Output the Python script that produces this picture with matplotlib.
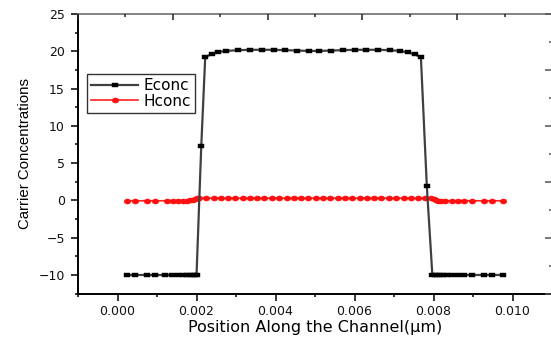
import numpy as np
import matplotlib
matplotlib.use("Agg")
import matplotlib.pyplot as plt
from matplotlib.ticker import MultipleLocator, NullFormatter
from matplotlib.path import Path
from matplotlib.transforms import Affine2D

# electron concentration (black squares)
e_pos = [0.00024, 0.00045, 0.00074, 0.00095, 0.00121, 0.00138, 0.00152, 0.00165,
         0.00175, 0.00183, 0.00190, 0.00196, 0.00200, 0.00212, 0.00222, 0.00240,
         0.00255, 0.00275, 0.00305, 0.00335, 0.00365, 0.00395, 0.00425, 0.00455,
         0.00485, 0.00510, 0.00540, 0.00570, 0.00600, 0.00630, 0.00660, 0.00690,
         0.00715, 0.00735, 0.00752, 0.00768, 0.00783, 0.00797, 0.00803, 0.00810,
         0.00817, 0.00825, 0.00835, 0.00847, 0.00862, 0.00876, 0.00897, 0.00927,
         0.00948, 0.00977]
e_conc = [-10, -10, -10, -10, -10, -10, -10, -10,
          -10, -10, -10, -10, -10, 7.3, 19.2, 19.7,
          19.9, 20.05, 20.15, 20.2, 20.2, 20.2, 20.15, 20.1,
          20.05, 20.05, 20.1, 20.15, 20.2, 20.2, 20.2, 20.15,
          20.05, 19.85, 19.6, 19.2, 1.9, -10, -10, -10,
          -10, -10, -10, -10, -10, -10, -10, -10,
          -10, -10]

# hole concentration (red circles)
h_pos = [0.00024, 0.00045, 0.00074, 0.00095, 0.00124, 0.00141, 0.00153, 0.00166,
         0.00175, 0.00183, 0.00190, 0.00195, 0.00200, 0.00206, 0.00224, 0.00243,
         0.00261, 0.00280, 0.00298, 0.00317, 0.00335, 0.00354, 0.00372, 0.00391,
         0.00409, 0.00428, 0.00446, 0.00465, 0.00483, 0.00502, 0.00520, 0.00539,
         0.00557, 0.00576, 0.00594, 0.00613, 0.00631, 0.00650, 0.00668, 0.00687,
         0.00705, 0.00724, 0.00742, 0.00761, 0.00779, 0.00793, 0.00800, 0.00806,
         0.00812, 0.00820, 0.00830, 0.00847, 0.00862, 0.00876, 0.00897, 0.00927,
         0.00948, 0.00977]
h_conc = [-0.05, -0.05, -0.05, -0.05, -0.05, -0.05, -0.05, -0.03,
          -0.02, 0.0, 0.05, 0.2, 0.35, 0.3, 0.3, 0.3,
          0.3, 0.3, 0.3, 0.3, 0.3, 0.3, 0.3, 0.3,
          0.3, 0.3, 0.3, 0.3, 0.3, 0.3, 0.3, 0.3,
          0.3, 0.3, 0.3, 0.3, 0.3, 0.3, 0.3, 0.3,
          0.3, 0.3, 0.3, 0.3, 0.3, 0.35, 0.15, 0.05,
          -0.02, -0.05, -0.05, -0.05, -0.05, -0.05, -0.05, -0.05,
          -0.05, -0.05]

plt.rcParams['font.family'] = ['DejaVu Sans']

# the original picture is stretched sideways, so the markers are too
sq_marker = Path([(-1.5, -1), (1.5, -1), (1.5, 1), (-1.5, 1), (-1.5, -1)],
                 [Path.MOVETO, Path.LINETO, Path.LINETO, Path.LINETO, Path.CLOSEPOLY])
oval_marker = Path.unit_circle().transformed(Affine2D().scale(1.3, 1.0))

fig = plt.figure(figsize=(5.51, 3.42), dpi=100)
ax = fig.add_axes([0.1416, 0.1415, 0.8603, 0.8175])

ax.plot(e_pos, e_conc, color='#404040', lw=1.6, marker=sq_marker, ms=4.6,
        mfc='black', mec='black', mew=0.3, label='Econc', zorder=3)
ax.plot(h_pos, h_conc, color='#ff2020', lw=1.2, marker=oval_marker, ms=4.8,
        mfc='#ff1010', mec='#ff1010', mew=0.3, label='Hconc', zorder=2)

ax.set_xlim(-0.001, 0.011)
ax.set_ylim(-12.5, 25)
ax.xaxis.set_major_locator(MultipleLocator(0.002))
ax.xaxis.set_minor_locator(MultipleLocator(0.001))
ax.yaxis.set_major_locator(MultipleLocator(5))
ax.yaxis.set_minor_locator(MultipleLocator(2.5))
ax.xaxis.set_major_formatter(plt.FuncFormatter(lambda v, p: f"{v:.3f}"))
ax.yaxis.set_major_formatter(plt.FuncFormatter(
    lambda v, p: f"{v:.0f}".replace('-', '\u2212')))

ax.tick_params(which='both', direction='out', top=False, right=False,
               labelsize=9, labelcolor='#111111', width=1.1)
ax.tick_params(which='major', length=5)
ax.tick_params(which='minor', length=2.3)
ax.tick_params(axis='x', pad=3.5)
ax.tick_params(axis='y', pad=4.5)

for s in ['left', 'bottom']:
    ax.spines[s].set_linewidth(1.4)
    ax.spines[s].set_color('black')
ax.spines['top'].set_color('#7a7a7a')
ax.spines['top'].set_linewidth(1.3)
ax.spines['right'].set_visible(False)

# mirrored top/right ticks with their own spacing
axt = ax.twiny()
axt.set_xlim(0, 5)
axt.xaxis.set_major_locator(MultipleLocator(1))
axt.xaxis.set_minor_locator(MultipleLocator(0.5))
axt.xaxis.set_major_formatter(NullFormatter())
axt.tick_params(which='both', direction='in', top=True, labeltop=False,
                width=1.1, color='#222222')
axt.tick_params(which='major', length=4)
axt.tick_params(which='minor', length=2)
axr = ax.twinx()
axr.set_ylim(0, 5)
axr.yaxis.set_major_locator(MultipleLocator(1))
axr.yaxis.set_minor_locator(MultipleLocator(0.5))
axr.yaxis.set_major_formatter(NullFormatter())
axr.tick_params(which='both', direction='in', right=True, labelright=False,
                width=1.1, color='#555555')
axr.tick_params(which='major', length=5)
axr.tick_params(which='minor', length=2.2)
for a in (axt, axr):
    for s in a.spines.values():
        s.set_visible(False)

ax.set_xlabel('Position Along the Channel(\u00b5m)', fontsize=11.5, labelpad=1)
ax.set_ylabel('Carrier Concentrations', fontsize=10.8,
              family=['Liberation Sans Narrow', 'Liberation Sans'], labelpad=5)

leg = ax.legend(loc='upper left', bbox_to_anchor=(0.0196, 0.785),
                borderaxespad=0, fontsize=11, frameon=True, fancybox=False,
                handlelength=3.1, handletextpad=0.35, borderpad=0.25,
                labelspacing=0.05)
leg.get_frame().set_edgecolor('black')
leg.get_frame().set_linewidth(1.0)

fig.savefig('out.png', dpi=100)
